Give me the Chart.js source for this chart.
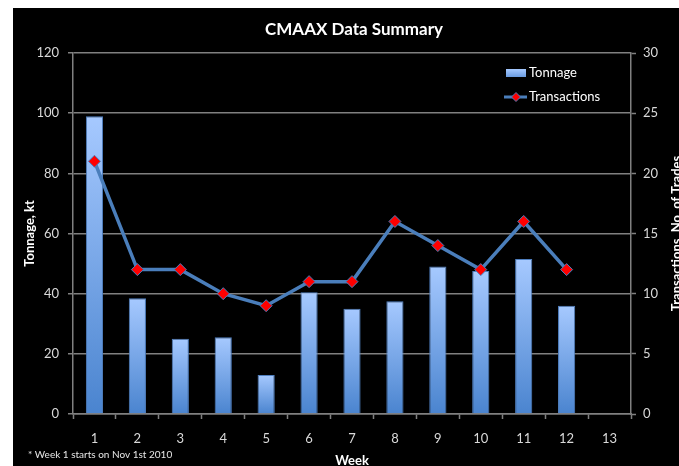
<!DOCTYPE html>
<html>
<head>
<meta charset="utf-8">
<script src="https://cdn.jsdelivr.net/npm/chart.js@4.4.0/dist/chart.umd.min.js"></script>
<style>
  html, body { margin: 0; padding: 0; background: #fff; overflow: hidden; width: 679px; height: 466px; }
  #wrap { position: absolute; left: 13px; top: 8px; width: 682px; height: 466px; background: #000; }
  canvas { display: block; }
</style>
</head>
<body>
<div id="wrap"><canvas id="c" width="682" height="466"></canvas></div>
<script>
const weeks = ['1','2','3','4','5','6','7','8','9','10','11','12','13'];
const tonnage = [99, 38.5, 25, 25.5, 13, 40.5, 35, 37.5, 49, 47.5, 51.5, 36, null];
const transactions = [21, 12, 12, 10, 9, 11, 11, 16, 14, 12, 16, 12, null];
const leftTicks = [0, 20, 40, 60, 80, 100, 120];
const rightTicks = [0, 5, 10, 15, 20, 25, 30];
const titleText = 'CMAAX Data Summary';
const leftTitle = 'Tonnage, kt';
const rightTitle = 'Transactions, No. of Trades';
const xTitle = 'Week';
const footnote = '* Week 1 starts on Nov 1st 2010';
const seriesNames = ['Tonnage', 'Transactions'];

const FONT = 'Lato, "Open Sans", sans-serif';
const TICK_COLOR = '#d9d9d9';
const GRID = '#808080';
const LINE_COLOR = '#4a7ebb';
const BAR_TOP = '#a6c9ff';
const BAR_BOTTOM = '#4a84cf';

function barGradient(ctx) {
  const chart = ctx.chart;
  if (!chart.chartArea || ctx.type !== 'data' || ctx.raw == null) return '#7aa7e8';
  const y = chart.scales.y;
  const top = y.getPixelForValue(ctx.raw);
  const bottom = y.getPixelForValue(0);
  const g = chart.ctx.createLinearGradient(0, top, 0, bottom);
  g.addColorStop(0, BAR_TOP);
  g.addColorStop(1, BAR_BOTTOM);
  return g;
}

const extras = {
  id: 'extras',
  afterDraw(chart) {
    const ctx = chart.ctx;
    const ca = chart.chartArea;
    ctx.save();
    // right axis title (reads bottom to top)
    ctx.fillStyle = '#ffffff';
    ctx.font = 'bold 13px ' + FONT;
    ctx.textAlign = 'center';
    ctx.textBaseline = 'middle';
    ctx.translate(664, (ca.top + ca.bottom) / 2);
    ctx.rotate(-Math.PI / 2);
    ctx.fillText(rightTitle, 0, 0);
    ctx.restore();

    ctx.save();
    // footnote
    ctx.fillStyle = '#e6e6e6';
    ctx.font = '10px ' + FONT;
    ctx.textAlign = 'left';
    ctx.textBaseline = 'middle';
    ctx.fillText(footnote, 15, 447);

    // legend
    const lx = ca.right - 125;
    const ly1 = ca.top + 20;
    const ly2 = ca.top + 44;
    const g = ctx.createLinearGradient(0, ly1 - 4, 0, ly1 + 4);
    g.addColorStop(0, BAR_TOP);
    g.addColorStop(1, '#6a9be0');
    ctx.fillStyle = g;
    ctx.fillRect(lx, ly1 - 4, 20, 8);
    ctx.strokeStyle = LINE_COLOR;
    ctx.lineWidth = 3;
    ctx.beginPath();
    ctx.moveTo(lx - 2, ly2);
    ctx.lineTo(lx + 21, ly2);
    ctx.stroke();
    ctx.fillStyle = '#ff0000';
    ctx.strokeStyle = LINE_COLOR;
    ctx.lineWidth = 1;
    ctx.beginPath();
    const cx = lx + 10;
    ctx.moveTo(cx - 4.5, ly2);
    ctx.lineTo(cx, ly2 - 4.5);
    ctx.lineTo(cx + 4.5, ly2);
    ctx.lineTo(cx, ly2 + 4.5);
    ctx.closePath();
    ctx.fill();
    ctx.stroke();
    ctx.fillStyle = '#ffffff';
    ctx.font = '13px ' + FONT;
    ctx.textBaseline = 'middle';
    ctx.fillText(seriesNames[0], lx + 23, ly1);
    ctx.fillText(seriesNames[1], lx + 23, ly2);
    ctx.restore();
  }
};

new Chart(document.getElementById('c'), {
  data: {
    labels: weeks,
    datasets: [
      {
        type: 'line',
        label: seriesNames[1],
        data: transactions,
        yAxisID: 'y1',
        borderColor: LINE_COLOR,
        borderWidth: 3.5,
        pointStyle: 'rectRot',
        pointRadius: 6,
        pointBackgroundColor: '#ff0000',
        pointBorderColor: LINE_COLOR,
        pointBorderWidth: 1,
        tension: 0,
        order: 1
      },
      {
        type: 'bar',
        label: seriesNames[0],
        data: tonnage,
        yAxisID: 'y',
        backgroundColor: barGradient,
        borderColor: '#4f7fbf',
        borderWidth: 1,
        categoryPercentage: 1,
        barPercentage: 0.4,
        order: 2
      }
    ]
  },
  options: {
    responsive: false,
    animation: false,
    devicePixelRatio: 1,
    layout: { padding: 0 },
    plugins: {
      legend: { display: false },
      tooltip: { enabled: false },
      title: {
        display: true,
        text: titleText,
        color: '#ffffff',
        font: { family: FONT, size: 17, weight: 'bold' },
        padding: { top: 11.8, bottom: 12.8 }
      }
    },
    scales: {
      x: {
        type: 'category',
        offset: true,
        grid: { display: true, offset: true, drawOnChartArea: false, color: GRID, tickLength: 5, tickWidth: 1.5 },
        border: { display: true, color: GRID, width: 1.5 },
        ticks: { color: TICK_COLOR, font: { family: FONT, size: 13 }, padding: 12, maxRotation: 0 },
        title: { display: true, text: xTitle, color: '#ffffff', font: { family: FONT, size: 13, weight: 'bold' }, padding: { top: 0, bottom: 5 } },
        afterFit(s) { s.height = 60; }
      },
      y: {
        position: 'left',
        min: 0, max: 120,
        afterBuildTicks(s) { s.ticks = leftTicks.map(v => ({ value: v })); },
        grid: { color: GRID, lineWidth: 1.5, tickLength: 5 },
        border: { display: true, color: GRID, width: 1.5 },
        ticks: { color: TICK_COLOR, font: { family: FONT, size: 13 }, padding: 9 },
        title: { display: true, text: leftTitle, color: '#ffffff', font: { family: FONT, size: 13, weight: 'bold' }, padding: { top: 9.2, bottom: 0 } },
        afterFit(s) { s.width = 60; }
      },
      y1: {
        position: 'right',
        min: 0, max: 30,
        afterBuildTicks(s) { s.ticks = rightTicks.map(v => ({ value: v })); },
        grid: { drawOnChartArea: false, color: GRID, tickLength: 5, tickWidth: 1.5 },
        border: { display: true, color: GRID, width: 1.5 },
        ticks: { color: TICK_COLOR, font: { family: FONT, size: 13 }, padding: 7 },
        afterFit(s) { s.width = 64; }
      }
    }
  },
  plugins: [extras]
});
</script>
</body>
</html>
